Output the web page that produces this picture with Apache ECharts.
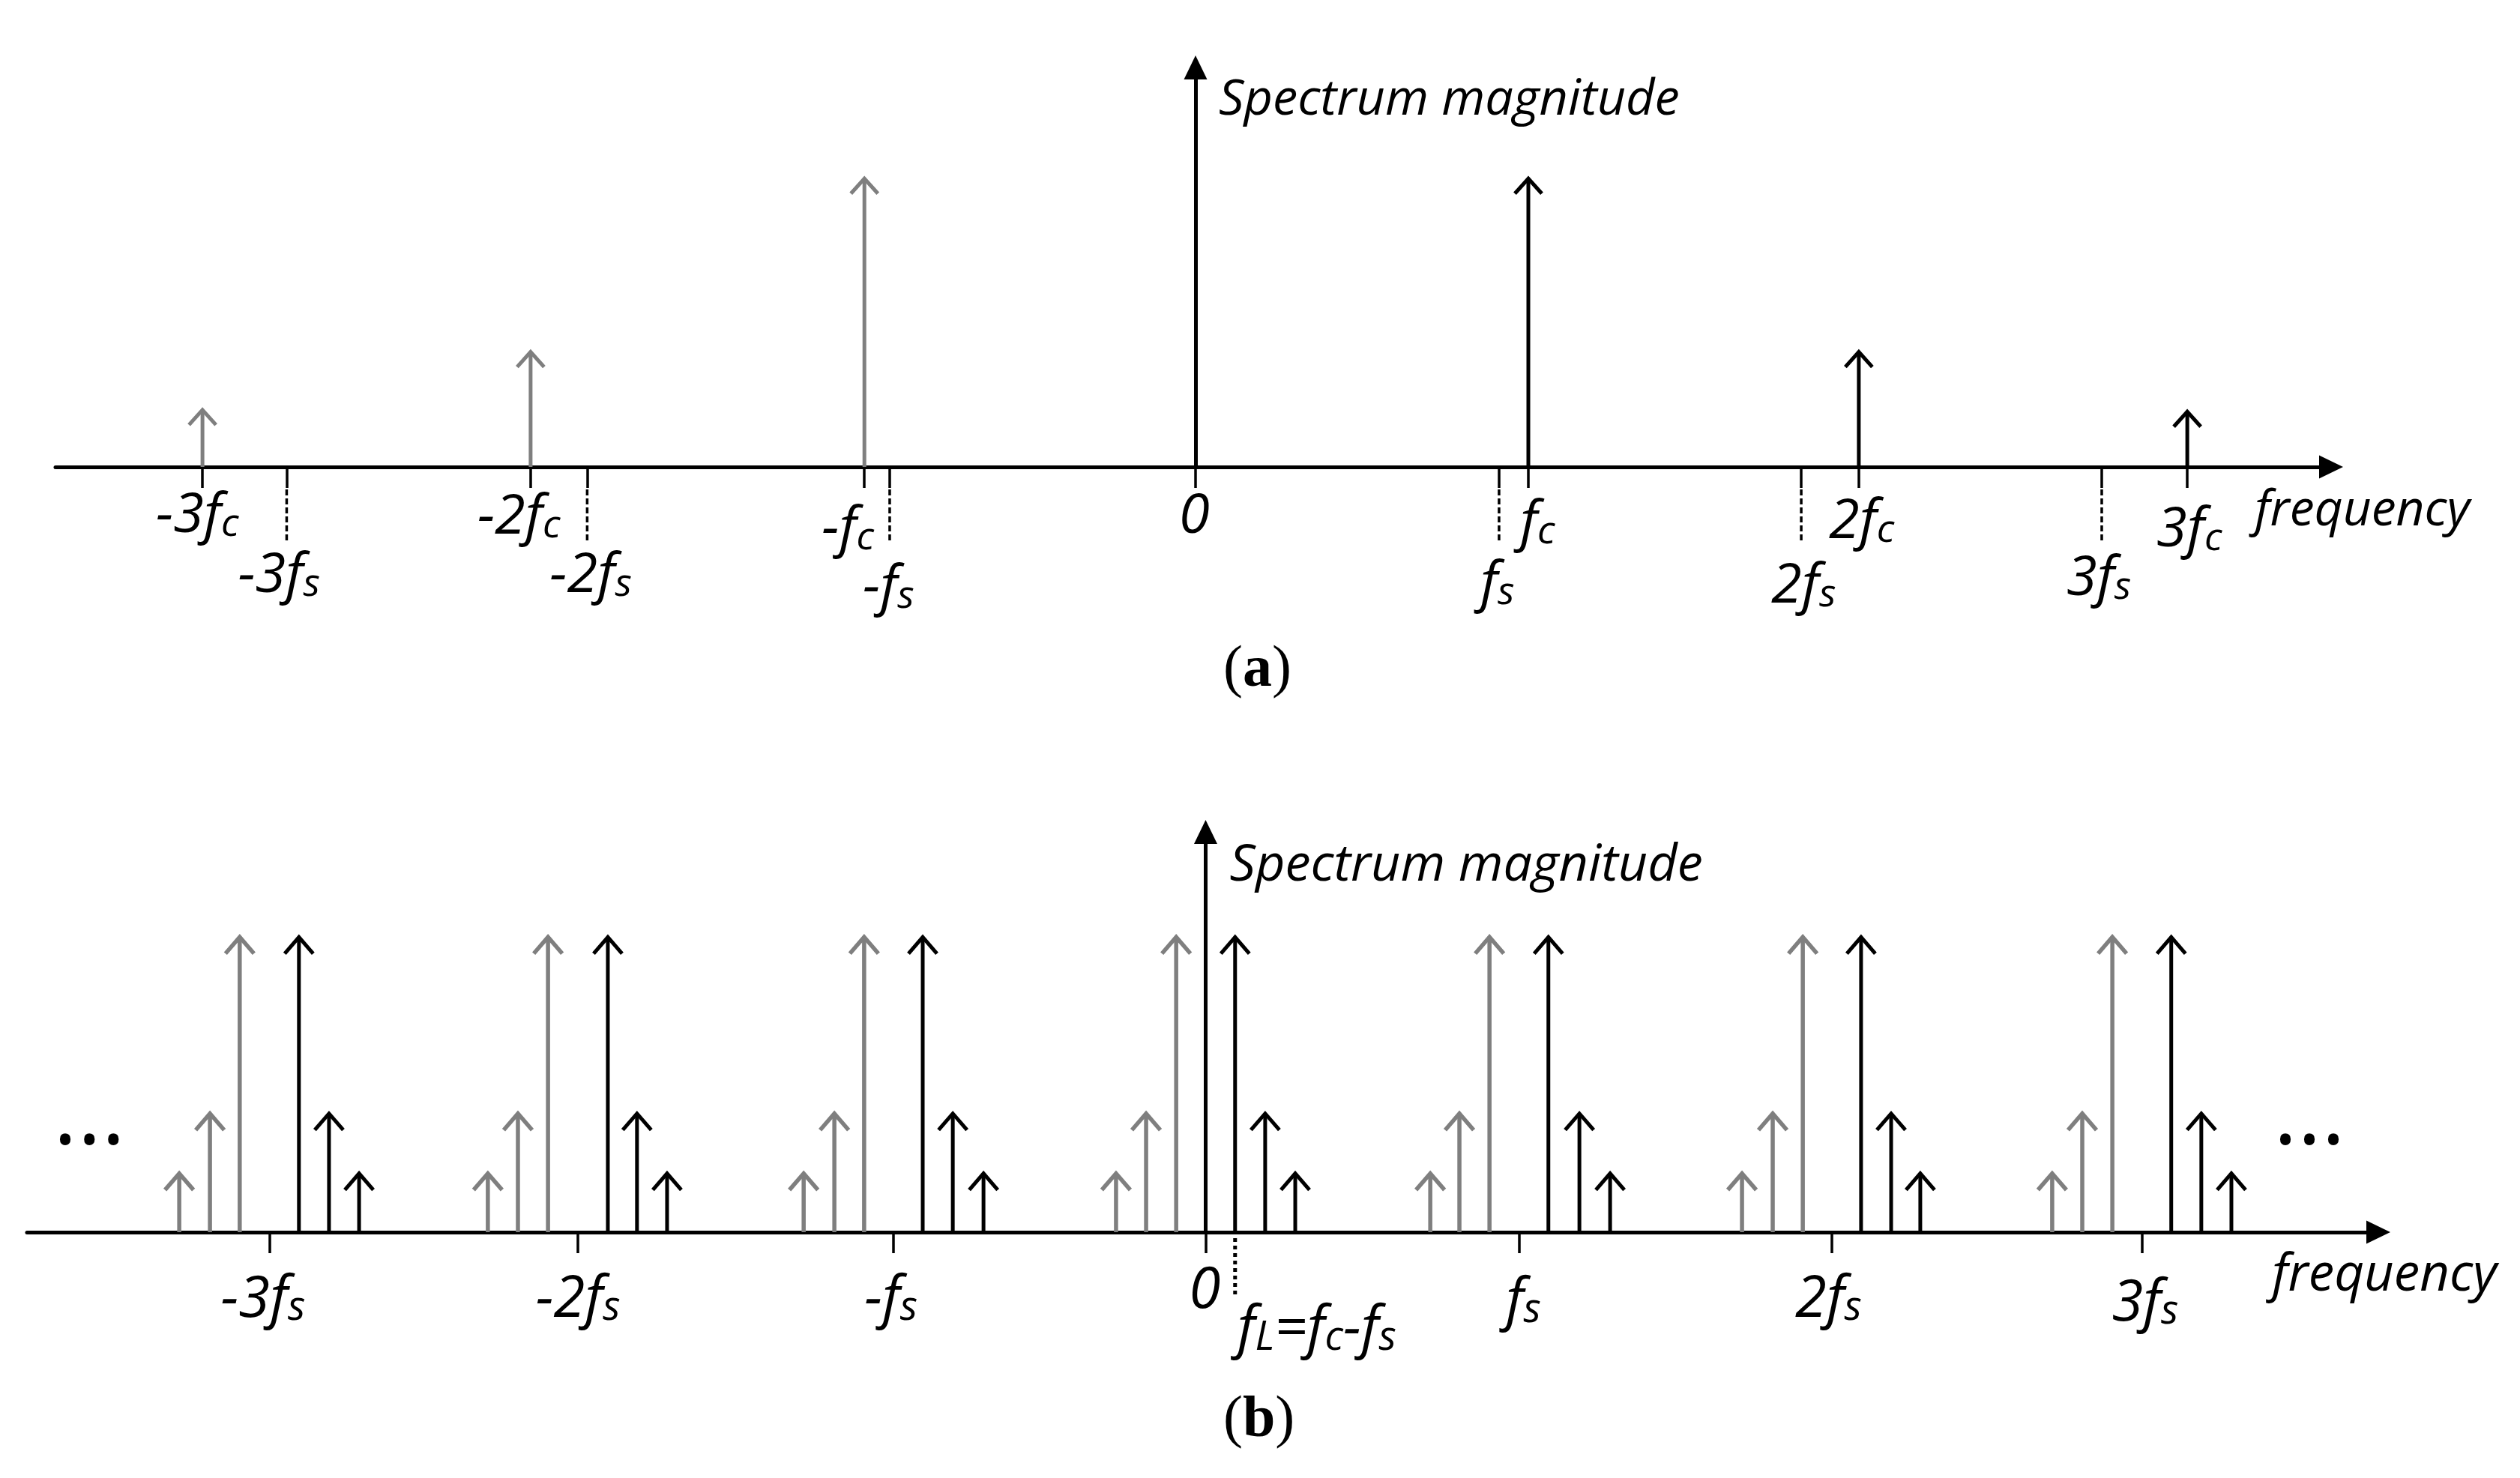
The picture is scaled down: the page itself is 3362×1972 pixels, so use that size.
<!DOCTYPE html>
<html>
<head>
<meta charset="utf-8">
<title>Spectrum</title>
<script src="https://cdn.jsdelivr.net/npm/echarts@6/dist/echarts.min.js"></script>
<style>
  html, body { margin: 0; background: #fff; }
  #chart { width: 3362px; height: 1972px; }
</style>
</head>
<body>
<div id="chart"></div>
<script>
// --- panel (a): frequency in units of fc, magnitude relative to the fc line ---
var aGrayFreq = [-2.984, -1.998, -0.995];
var aGrayMag = [0.206, 0.405, 1];
var aBlackFreq = [1, 1.993, 2.98];
var aBlackMag = [1, 0.405, 0.2];
var aCarrierTicks = [-2.984, -1.998, -0.995, 0, 1, 1.993, 2.98];
var aSampleTicks = [-2.731, -1.828, -0.919, 0.912, 1.82, 2.723];
var aLabelFreq = [-2.984, -2.731, -1.998, -1.828, -0.995, -0.919, 0, 0.912, 1, 1.82, 1.993, 2.723, 2.98];
var aLabels = ['-3f|c', '-3f|s', '-2f|c', '-2f|s', '-f|c', '-f|s', '0', 'f|s', 'f|c', '2f|s', '2f|c', '3f|s', '3f|c'];

// --- panel (b): frequency in units of fs ---
var bGrayFreq = [-3.276, -3.178, -3.083, -2.291, -2.195, -2.099, -1.283, -1.185, -1.09, -0.286, -0.19, -0.094,
  0.717, 0.81, 0.906, 1.712, 1.81, 1.906, 2.702, 2.798, 2.894];
var bGrayMag = [0.207, 0.408, 1, 0.207, 0.408, 1, 0.207, 0.408, 1, 0.207, 0.408, 1,
  0.207, 0.408, 1, 0.207, 0.408, 1, 0.207, 0.408, 1];
var bBlackFreq = [-2.894, -2.798, -2.702, -1.908, -1.815, -1.719, -0.903, -0.807, -0.709, 0.094, 0.19, 0.286,
  1.094, 1.193, 1.291, 2.092, 2.188, 2.281, 3.082, 3.178, 3.274];
var bBlackMag = [1, 0.408, 0.207, 1, 0.408, 0.207, 1, 0.408, 0.207, 1, 0.408, 0.207,
  1, 0.408, 0.207, 1, 0.408, 0.207, 1, 0.408, 0.207];
var bTicks = [-2.988, -2.004, -0.996, 0, 1.001, 1.999, 2.988];
var bLowFreq = [0.094];
var bLabelFreq = [-2.988, -2.004, -0.996, 0, 0.094, 1.001, 1.999, 2.988];
var bLabels = ['-3f|s', '-2f|s', '-f|s', '0', 'f|L=f|c-f|s', 'f|s', '2f|s', '3f|s'];
var bDotsFreq = [-3.563, 3.523];
var bDotsMag = [0.315, 0.315];

// pixel offsets of the labels from their tick on the axis
var aLabelDx = [-62, -65, -71, -50, -57, -36, -22, -25, -11, -40, -40, -47, -41];
var aLabelDy = [90, 170, 92, 170, 108, 186, 91, 181, 100, 184, 98, 174, 109];
var bLabelDx = [-65, -56, -39, -22, 3, -18, -49, -40];
var bLabelDy = [116, 116, 116, 104, 156, 119, 116, 121];

var GRAY = '#7f7f7f';
var FONT = '"Open Sans", sans-serif';

function zip(a, b) {
  return a.map(function(v, i) { return [v, b[i]]; });
}

// 'f|c-f|s' -> rich string with the letter after each | as subscript
function richLabel(s) {
  var parts = s.split('|');
  var out = '{m|' + parts[0] + '}';
  for (var i = 1; i < parts.length; i++) {
    out += '{s|' + parts[i].charAt(0) + '}';
    if (parts[i].length > 1) out += '{m|' + parts[i].slice(1) + '}';
  }
  return out;
}

function arrowSeries(data, axis, color, width, hw, hh) {
  return {
    type: 'custom',
    xAxisIndex: axis,
    yAxisIndex: axis,
    clip: false,
    silent: true,
    encode: { x: 0, y: 1 },
    data: data,
    renderItem: function(params, api) {
      var base = api.coord([api.value(0), 0]);
      var tip = api.coord([api.value(0), api.value(1)]);
      var x = tip[0], y = tip[1] + 4;
      var style = { stroke: color, lineWidth: width, fill: 'none', lineJoin: 'miter' };
      return {
        type: 'group',
        children: [
          { type: 'line', shape: { x1: x, y1: base[1], x2: x, y2: y }, style: style },
          { type: 'polyline', shape: { points: [[x - hw, y + hh], [x, y], [x + hw, y + hh]] }, style: style }
        ]
      };
    }
  };
}

function dashSeries(freq, axis, from, to, width, dash) {
  return {
    type: 'custom',
    xAxisIndex: axis,
    yAxisIndex: axis,
    clip: false,
    silent: true,
    encode: { x: 0, y: 1 },
    data: freq.map(function(v) { return [v, 0]; }),
    renderItem: function(params, api) {
      var p = api.coord([api.value(0), 0]);
      return {
        type: 'line',
        shape: { x1: p[0], y1: p[1] + from, x2: p[0], y2: p[1] + to },
        style: { stroke: '#000', lineWidth: width, lineDash: dash }
      };
    }
  };
}

function labelSeries(freq, labels, dx, dy, axis, size, subSize) {
  return {
    type: 'custom',
    xAxisIndex: axis,
    yAxisIndex: axis,
    clip: false,
    silent: true,
    encode: { x: 0, y: 1 },
    data: freq.map(function(v) { return [v, 0]; }),
    renderItem: function(params, api) {
      var i = params.dataIndex;
      var p = api.coord([api.value(0), 0]);
      return {
        type: 'text',
        style: {
          x: p[0] + dx[i],
          y: p[1] + dy[i] + 13,
          text: richLabel(labels[i]),
          align: 'left',
          verticalAlign: 'bottom',
          rich: {
            m: { fontFamily: FONT, fontStyle: 'italic', fontSize: size, lineHeight: 78, verticalAlign: 'bottom', fill: '#000' },
            s: { fontFamily: FONT, fontStyle: 'italic', fontSize: subSize, lineHeight: 38, verticalAlign: 'bottom', fill: '#000' }
          }
        }
      };
    }
  };
}

function dotsSeries(data, axis) {
  return {
    type: 'custom',
    xAxisIndex: axis,
    yAxisIndex: axis,
    clip: false,
    silent: true,
    encode: { x: 0, y: 1 },
    data: data,
    renderItem: function(params, api) {
      var p = api.coord([api.value(0), api.value(1)]);
      return {
        type: 'text',
        style: {
          x: p[0], y: p[1] + 34, text: '...',
          align: 'center', verticalAlign: 'bottom',
          fontFamily: FONT, fontSize: 122, fill: '#000'
        }
      };
    }
  };
}

function xAxisOf(index, min, max, ticks, name, gap, lineH, size) {
  return {
    type: 'value',
    gridIndex: index,
    min: min,
    max: max,
    name: name,
    nameLocation: 'end',
    nameGap: gap,
    nameMoveOverlap: false,
    nameTextStyle: { fontFamily: FONT, fontStyle: 'italic', fontSize: size, color: '#000', align: 'left', verticalAlign: 'top', lineHeight: lineH },
    axisLine: { show: true, onZero: true, symbol: ['none', 'triangle'], symbolSize: [31, 32], lineStyle: { color: '#000', width: 5 } },
    axisTick: { show: true, customValues: ticks, length: 28, lineStyle: { color: '#000', width: 3.5 } },
    axisLabel: { show: false },
    splitLine: { show: false }
  };
}

function yAxisOf(index, max, name, gap, pad, size) {
  return {
    type: 'value',
    gridIndex: index,
    min: 0,
    max: max,
    name: name,
    nameLocation: 'end',
    nameGap: gap,
    nameMoveOverlap: false,
    nameTextStyle: { fontFamily: FONT, fontStyle: 'italic', fontSize: size, color: '#000', align: 'left', verticalAlign: 'bottom', padding: pad },
    axisLine: { show: true, onZero: true, symbol: ['none', 'triangle'], symbolSize: [31, 32], lineStyle: { color: '#000', width: 5 } },
    axisTick: { show: false },
    axisLabel: { show: false },
    splitLine: { show: false }
  };
}

function caption(letter, top) {
  return {
    text: '{r|(}{b|' + letter + '}{r|)}',
    left: 1632,
    top: top,
    padding: 0,
    textStyle: {
      rich: {
        r: { fontFamily: '"Liberation Serif", serif', fontSize: 78, fontWeight: 'normal', color: '#000' },
        b: { fontFamily: '"Liberation Serif", serif', fontSize: 78, fontWeight: 'bold', color: '#000' }
      }
    }
  };
}

var chart = echarts.init(document.getElementById('chart'));
chart.setOption({
  animation: false,
  backgroundColor: '#fff',
  title: [caption('a', 856), caption('b', 1857)],
  grid: [
    { left: 74, width: 3036, top: 90, height: 533 },
    { left: 36, width: 3137, top: 1110, height: 534 }
  ],
  xAxis: [
    xAxisOf(0, -3.4257, 3.4122, aCarrierTicks.concat(aSampleTicks), 'frequency', -102, 118, 66),
    xAxisOf(1, -3.762, 3.743, bTicks, 'frequency', -142, 116, 69)
  ],
  yAxis: [
    yAxisOf(0, 1.3711, 'Spectrum magnitude', -78, [0, 0, 0, 31], 66.6),
    yAxisOf(1, 1.3426, 'Spectrum magnitude', -80, [0, 0, 0, 32], 68.4)
  ],
  series: [
    arrowSeries(zip(aGrayFreq, aGrayMag), 0, GRAY, 5, 18, 20),
    arrowSeries(zip(aBlackFreq, aBlackMag), 0, '#000', 5, 18, 20),
    dashSeries(aSampleTicks, 0, 30, 100, 3.5, [8, 4]),
    labelSeries(aLabelFreq, aLabels, aLabelDx, aLabelDy, 0, 74, 52),
    arrowSeries(zip(bGrayFreq, bGrayMag), 1, GRAY, 5.5, 19, 22),
    arrowSeries(zip(bBlackFreq, bBlackMag), 1, '#000', 5, 19, 22),
    dashSeries(bLowFreq, 1, 8, 88, 5, [5, 5]),
    labelSeries(bLabelFreq, bLabels, bLabelDx, bLabelDy, 1, 76, 54),
    dotsSeries(zip(bDotsFreq, bDotsMag), 1)
  ]
});
window.addEventListener('resize', function() { chart.resize(); });
</script>
</body>
</html>
